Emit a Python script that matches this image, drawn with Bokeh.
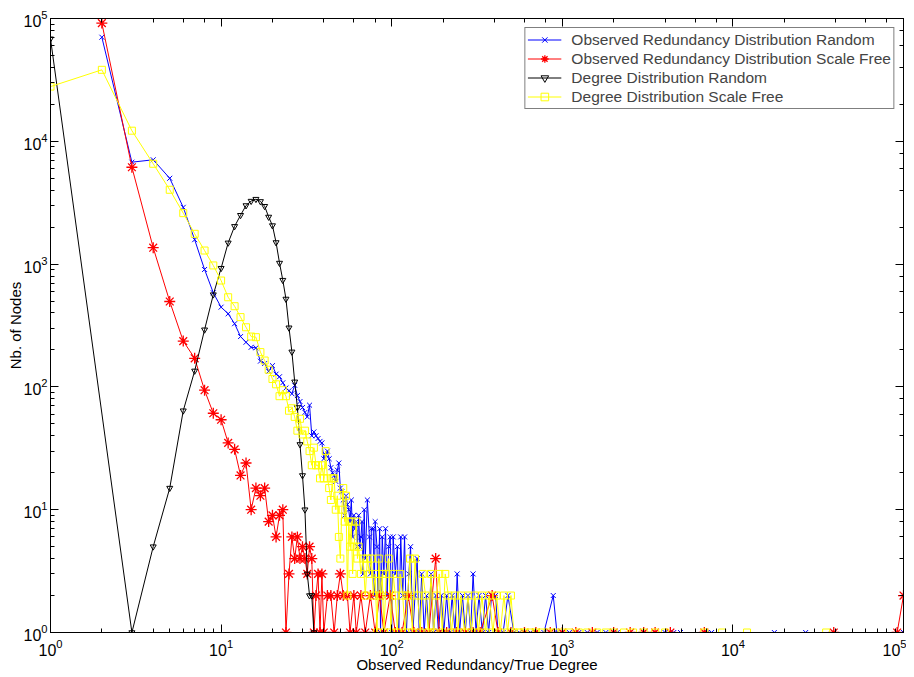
from bokeh.plotting import figure
from bokeh.models import Range1d, LogAxis, LogTicker, Legend, LegendItem, CustomJSTickFormatter
from bokeh.embed import file_html
from bokeh.resources import INLINE

# ---------------- data ----------------
obs_rand_x = [2, 3, 4, 5, 6, 7, 8, 9, 10, 11,
              12, 13, 14, 15, 16, 17, 18, 19, 20, 21,
              22, 23, 24, 25, 26, 27, 28, 29, 30, 31,
              32, 33, 34, 35, 36, 37, 38, 39, 40, 41,
              42, 43, 44, 45, 46, 47, 48, 49, 50, 51,
              52, 53, 54, 55, 56, 57, 58, 59, 60, 61,
              62, 63, 64, 65, 66, 67, 68, 69, 70, 72,
              74, 75, 76, 78, 79, 80, 82, 83, 85, 86,
              88, 90, 92, 94, 96, 98, 100, 102, 105, 108,
              110, 113, 116, 119, 122, 126, 129, 133, 137, 141,
              145, 150, 155, 160, 165, 170, 176, 182, 188, 195,
              202, 210, 218, 226, 235, 242, 250, 260, 270, 280,
              290, 300, 312, 325, 340, 355, 370, 385, 406, 420,
              450, 480, 520, 560, 600, 650, 700, 780, 885, 930,
              1000, 1100, 1250, 1400, 1600, 1800, 2100, 2500, 3000, 3500,
              4000, 4500, 4930, 7060, 7500, 17500, 26700, 39000, 100000]
obs_rand_y = [70400, 6760, 7070, 5000, 2900, 1580, 904, 584, 446, 394,
              327, 257, 231, 210, 208, 162, 155, 134, 149, 127,
              121, 108, 98, 93, 88, 103, 85, 76, 68, 62,
              57, 71, 40, 43, 40, 38, 36, 35, 26, 28,
              30, 26, 22, 20, 19, 17, 21, 24, 15, 14,
              12, 9, 13, 11, 10, 8, 12, 6, 9, 7,
              8, 5, 9, 5, 6, 8, 3, 10, 4, 12,
              6, 3, 7, 7, 2, 8, 5, 2, 7, 1,
              6, 3, 7, 2, 5, 6, 1, 6, 3, 5,
              1, 6, 2, 6, 1, 3, 5, 1, 2, 4,
              1, 3, 1, 2, 1, 3, 1, 2, 1, 2,
              1, 2, 1, 2, 1, 3, 1, 2, 1, 2,
              1, 3, 1, 2, 1, 2, 1, 2, 2, 1,
              1, 2, 1, 1, 1, 1, 1, 1, 2, 1,
              1, 1, 1, 1, 1, 1, 1, 1, 1, 1,
              1, 1, 1, 1, 1, 1, 1, 1, 1]

obs_sf_x = [2, 3, 4, 5, 6, 7, 8, 9, 10, 11,
            12, 13, 14, 15, 16, 17, 18, 19, 20, 21,
            22, 23, 24, 25, 26, 27, 28, 29, 30, 31,
            32, 33, 34, 35, 36, 37, 38, 39, 40, 42,
            44, 46, 48, 50, 52, 55, 57, 60, 62, 66,
            70, 75, 80, 85, 90, 98, 105, 115, 125, 135,
            150, 165, 181, 190, 210, 240, 270, 300, 330, 388,
            420, 500, 600, 700, 850, 1000, 1200, 1500, 2000, 2500,
            3000, 3500, 4300, 6800, 39000, 91800, 100000]
obs_sf_y = [91700, 6150, 1360, 496, 236, 171, 94, 61, 54, 35,
            31, 19, 24, 10, 15, 13, 15, 8, 9, 6,
            9, 10, 1, 3, 6, 4, 6, 4, 5, 4,
            3, 5, 4, 1, 2, 3, 1, 3, 1, 2,
            2, 1, 2, 3, 2, 2, 1, 2, 1, 2,
            1, 2, 1, 2, 1, 2, 1, 1, 2, 1,
            1, 1, 4, 1, 1, 1, 1, 1, 1, 2,
            1, 1, 1, 1, 1, 1, 1, 1, 1, 1,
            1, 1, 1, 1, 1, 1, 2]

deg_rand_x = [1, 3, 4, 5, 6, 7, 8, 9, 10, 11,
              12, 13, 14, 15, 16, 17, 18, 19, 20, 21,
              22, 23, 24, 25, 26, 27, 28, 29, 30, 31,
              32, 33, 34, 35]
deg_rand_y = [68400, 1, 5, 15, 64, 135, 292, 564, 926, 1490,
              2030, 2500, 3000, 3260, 3380, 3240, 2960, 2420, 2060, 1500,
              1020, 740, 520, 303, 193, 110, 68, 34, 19, 10,
              3, 2, 2, 1]

deg_sf_x = [1, 2, 3, 4, 5, 6, 7, 8, 9, 10,
            11, 12, 13, 14, 15, 16, 17, 18, 19, 20,
            21, 22, 23, 24, 25, 26, 27, 28, 29, 30,
            31, 32, 33, 34, 35, 36, 37, 38, 39, 40,
            41, 42, 43, 44, 45, 46, 47, 48, 49, 50,
            51, 52, 53, 54, 55, 56, 57, 58, 59, 60,
            62, 63, 64, 66, 68, 70, 72, 74, 76, 78,
            80, 82, 84, 86, 88, 90, 93, 96, 99, 102,
            105, 108, 112, 116, 120, 124, 128, 132, 137, 142,
            147, 152, 158, 164, 170, 176, 183, 190, 198, 206,
            215, 224, 234, 244, 255, 267, 280, 293, 307, 322,
            338, 355, 373, 392, 412, 433, 455, 478, 500, 520,
            560, 600, 650, 700, 760, 820, 900, 1000, 1100, 1250,
            1400, 1600, 1800, 2000, 2300, 2600, 3000, 3500, 4000, 6800,
            8650, 12100, 35200]
deg_sf_y = [27900, 38200, 12200, 6560, 4030, 2600, 1765, 1290, 975, 735,
            537, 454, 370, 306, 257, 254, 192, 164, 138, 116,
            105, 84, 94, 84, 64, 67, 57, 44, 55, 41,
            44, 36, 30, 23, 32, 23, 23, 18, 23, 18,
            30, 18, 15, 12, 18, 18, 10, 13, 6, 4,
            10, 15, 8, 13, 2, 8, 5, 8, 3, 5,
            8, 4, 5, 3, 4, 2, 4, 3, 4, 2,
            3, 1, 4, 2, 3, 1, 3, 4, 1, 3,
            2, 1, 3, 2, 1, 2, 4, 1, 4, 2,
            1, 3, 2, 1, 3, 1, 2, 3, 1, 3,
            2, 1, 2, 1, 2, 1, 2, 1, 2, 1,
            2, 1, 2, 1, 2, 1, 2, 1, 2, 1,
            1, 1, 1, 1, 1, 1, 1, 1, 1, 1,
            1, 1, 1, 1, 1, 1, 1, 1, 1, 1,
            1, 1, 1]

labels = ["Observed Redundancy Distribution Random",
          "Observed Redundancy Distribution Scale Free",
          "Degree Distribution Random",
          "Degree Distribution Scale Free"]

FONT = "Liberation Sans"

# ---------------- figure ----------------
p = figure(x_axis_type="log", y_axis_type="log",
           x_range=Range1d(1, 1e5), y_range=Range1d(1, 1e5),
           frame_width=853, frame_height=614,
           output_backend="svg", toolbar_location=None,
           min_border_left=50, min_border_top=18, min_border_right=3, min_border_bottom=0,
           background_fill_color="white", border_fill_color="white")
p.xgrid.visible = False
p.ygrid.visible = False
p.outline_line_color = "black"
p.outline_line_width = 1

p.xaxis.axis_label = "Observed Redundancy/True Degree"
p.yaxis.axis_label = "Nb. of Nodes"

for ax in [p.xaxis[0], p.yaxis[0]]:
    ax.major_tick_in = 8
    ax.major_tick_out = 0
    ax.minor_tick_in = 4
    ax.minor_tick_out = 0
    ax.axis_line_color = "black"
    ax.major_tick_line_color = "black"
    ax.minor_tick_line_color = "black"
    ax.major_label_text_font = FONT
    ax.major_label_text_font_size = "16px"
    ax.major_label_text_color = "black"
    ax.axis_label_text_font = FONT
    ax.axis_label_text_font_size = "15px"
    ax.axis_label_text_font_style = "normal"
    ax.axis_label_text_color = "black"

p.xaxis.major_label_standoff = 6
p.xaxis.axis_label_standoff = -3
p.yaxis.major_label_standoff = 3
p.yaxis.axis_label_standoff = -4

for loc in ["above", "right"]:
    ax = LogAxis(ticker=LogTicker(), formatter=CustomJSTickFormatter(code="return ''"),
                 major_tick_in=8, major_tick_out=0, minor_tick_in=4, minor_tick_out=0,
                 major_label_standoff=0, axis_line_color="black")
    p.add_layout(ax, loc)

# series: blue, red, black, yellow (drawn in that order)
l1 = p.line(obs_rand_x, obs_rand_y, line_color="#0000ff", line_width=1)
s1 = p.scatter(obs_rand_x, obs_rand_y, marker="x", size=7, line_color="#0000ff", line_width=1)

l2 = p.line(obs_sf_x, obs_sf_y, line_color="#ff0000", line_width=1)
s2 = p.scatter(obs_sf_x, obs_sf_y, marker="asterisk", size=11, line_color="#ff0000", line_width=1.3)

l3 = p.line(deg_rand_x, deg_rand_y, line_color="black", line_width=1)
s3 = p.scatter(deg_rand_x, deg_rand_y, marker="inverted_triangle", size=6,
               line_color="black", fill_color=None, line_width=1)

l4 = p.line(deg_sf_x, deg_sf_y, line_color="#ffff00", line_width=1)
s4 = p.scatter(deg_sf_x, deg_sf_y, marker="square", size=7,
               line_color="#ffff00", fill_color=None, line_width=1)

legend = Legend(items=[LegendItem(label=labels[0], renderers=[l1, s1]),
                       LegendItem(label=labels[1], renderers=[l2, s2]),
                       LegendItem(label=labels[2], renderers=[l3, s3]),
                       LegendItem(label=labels[3], renderers=[l4, s4])],
                location="top_right", margin=9, padding=2, spacing=0,
                glyph_width=34, glyph_height=19, label_height=19, label_standoff=10,
                label_text_font=FONT, label_text_font_size="15.5px",
                border_line_color="black", border_line_width=1,
                background_fill_color="white", background_fill_alpha=1.0)
p.add_layout(legend)

open("out.html", "w").write(file_html(p, INLINE))
